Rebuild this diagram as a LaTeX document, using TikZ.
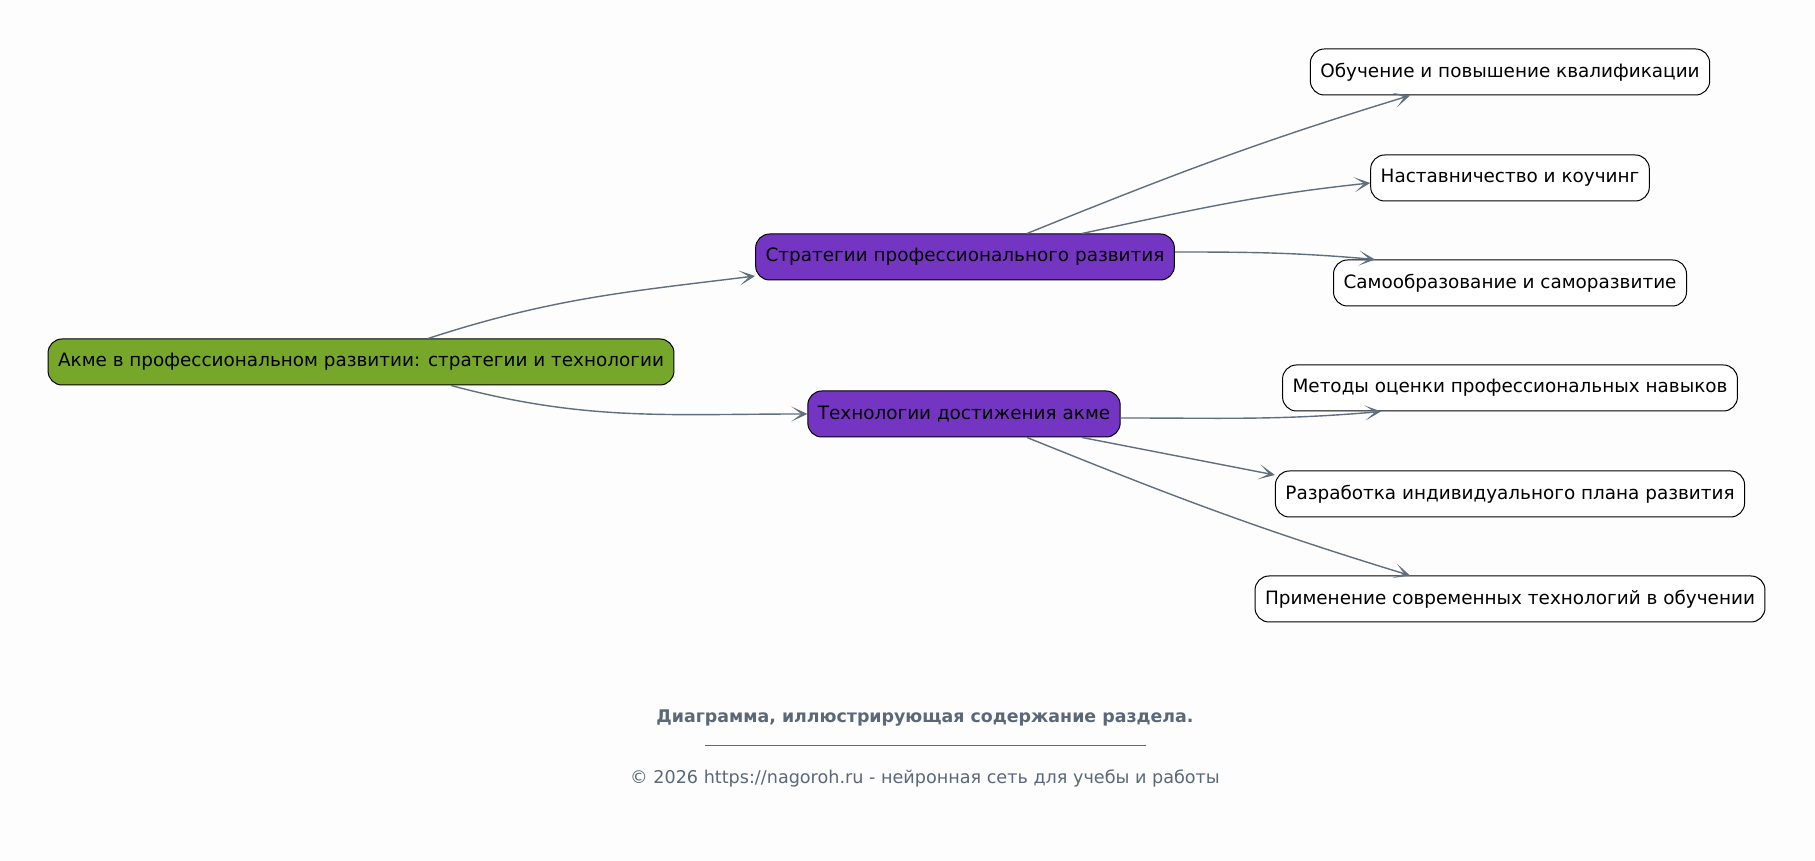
\documentclass[tikz,border=0pt]{standalone}
\usepackage{fontspec}
\setmainfont{DejaVu Sans}
\setsansfont{DejaVu Sans}
\RequirePackage{xcolor}
\definecolor{acmegreen}{RGB}{118,167,42}
\definecolor{acmepurple}{RGB}{117,53,195}
\definecolor{edgegray}{RGB}{95,111,127}
\definecolor{notegray}{RGB}{90,104,120}
\definecolor{paper}{RGB}{253,253,253}
\tikzset{every picture/.style={/utils/exec={\sffamily}}}
\usetikzlibrary{calc}
\usetikzlibrary{positioning}
\usetikzlibrary{arrows.meta}
\tikzset{
  topic/.style={draw=black, line width=1pt, rounded corners=14pt, minimum height=46pt,
    inner xsep=10pt, font=\fontsize{18.4}{21}\selectfont, text=black},
  roottopic/.style={topic, fill=acmegreen},
  subtopic/.style={topic, fill=acmepurple},
  leaftopic/.style={topic, fill=white},
  link/.style={draw=edgegray, line width=1.4pt, -{Stealth[length=16pt,width=15pt,inset=10pt]}},
}

\begin{document}
\begin{tikzpicture}[x=1pt, y=1pt]
  \fill [paper] (0,0) rectangle (1815,861);
  \useasboundingbox (0,0) rectangle (1815,861);

  \node [roottopic] (root) at (361,499) {Акме в профессиональном развитии: стратегии и технологии};
  \node [subtopic] (strat) at (965,604) {Стратегии профессионального развития};
  \node [subtopic] (tech) at (964,447) {Технологии достижения акме};

  \foreach \name/\y/\txt in {obuch/789/Обучение и повышение квалификации,
    nastav/683/Наставничество и коучинг,
    samo/578/Самообразование и саморазвитие,
    metody/473/Методы оценки профессиональных навыков,
    razrab/367/Разработка индивидуального плана развития,
    primen/262/Применение современных технологий в обучении} {
    \node [leaftopic] (\name) at (1510,\y) {\txt};
  }

  % first level:
  \draw [link] ([xshift=67pt]root.north) to [out=18, in=187] ([yshift=-19pt]strat.west);
  \draw [link] ([xshift=90pt]root.south) to [out=-15, in=180] (tech.west);

  % strategies
  \draw [link] ([xshift=62pt]strat.north) to [out=22, in=197] ([xshift=-100pt]obuch.south);
  \draw [link] ([xshift=117pt]strat.north) to [out=12, in=186] ([yshift=-5pt]nastav.west);
  \draw [link] ([yshift=5pt]strat.east) to [out=0, in=175] ([xshift=-135pt]samo.north);

  % technologies
  \draw [link] ([yshift=-4pt]tech.east) to [out=0, in=185] ([xshift=-129pt]metody.south);
  \draw [link] ([xshift=118pt]tech.south) to [out=-11, in=169] ([yshift=19pt]razrab.west);
  \draw [link] ([xshift=63pt]tech.south) to [out=-22, in=163] ([xshift=-100pt]primen.north);

  \node [text=notegray, font=\bfseries\fontsize{17.4}{20}\selectfont] (caption) at (925,143)
    {Диаграмма, иллюстрирующая содержание раздела.};
  \draw [notegray, line width=0.8pt] (705,116) -- (1146,116);
  \node [text=notegray, font=\fontsize{17.6}{20}\selectfont] (copy) at (925,83)
    {© 2026 https://nagoroh.ru - нейронная сеть для учебы и работы};
\end{tikzpicture}
\end{document}
